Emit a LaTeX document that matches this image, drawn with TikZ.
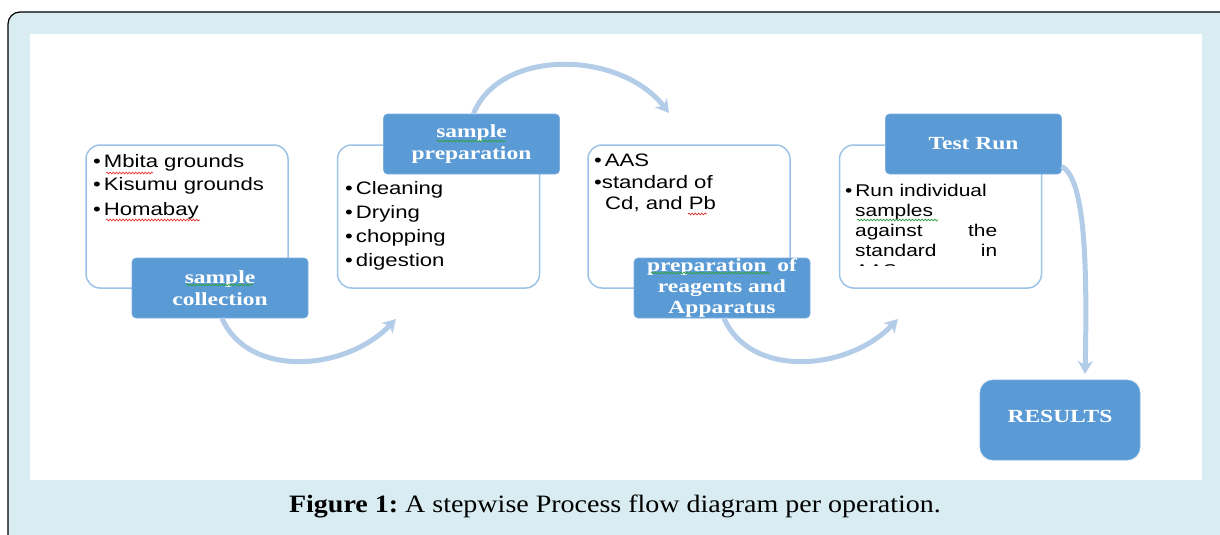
\documentclass[tikz,border=0pt]{standalone}
\usepackage{fontspec}
\setmainfont{Liberation Serif}
\newfontfamily\bodyf[FakeStretch=1.23]{Liberation Sans}
\newfontfamily\labf[FakeStretch=1.27]{Liberation Serif}
\newfontfamily\capf[FakeStretch=1.12]{Liberation Serif}
\usetikzlibrary{arrows.meta,decorations.pathmorphing}
\definecolor{frameblue}{HTML}{D9ECF2}
\definecolor{lblue}{HTML}{5B9BD5}
\definecolor{bordblue}{HTML}{9DC3E6}
\definecolor{arrblue}{HTML}{B3CDE9}
\definecolor{squigred}{HTML}{E03030}
\definecolor{squiggreen}{HTML}{30A040}
\tikzset{
  whitebox/.style={draw=bordblue, line width=1.5pt, fill=white, rounded corners=14pt,
    inner sep=0pt, minimum width=202pt, minimum height=143pt},
  labelbox/.style={fill=lblue, draw=lblue!80!white, line width=0.6pt, rounded corners=4pt,
    inner sep=0pt, minimum width=176pt, minimum height=60pt, text=white,
    font=\labf\bfseries\fontsize{18.5}{21.5}\selectfont, align=center},
  bodytext/.style={anchor=north west, inner sep=0pt, align=left, text=black,
    font=\bodyf\fontsize{18}{23}\selectfont},
  flow/.style={draw=arrblue, line width=5pt,
    -{Stealth[length=13pt,width=15pt,inset=4pt]}},
  squig/.style={decorate, decoration={snake, amplitude=0.9pt, segment length=3.2pt},
    line width=0.7pt}
}
\begin{document}
\begin{tikzpicture}[x=1pt,y=-1pt]
\useasboundingbox (0,0) rectangle (1220,535);
\clip (0,0) rectangle (1220,535);
% frame
\draw[fill=frameblue, rounded corners=12pt, line width=1.2pt] (8,12) rectangle (1250,570);
\fill[white] (30,34) rectangle (1202,480);

% white content boxes
\node[whitebox] (b1) at (187,216.5) {};
\node[whitebox] (b2) at (438.5,216.5) {};
\node[whitebox] (b3) at (689,216.5) {};
\node[whitebox] (b4) at (940.5,216.5) {};

% body texts
\node[bodytext] (t1) at (93,154) {•\,Mbita grounds\\ •\,Kisumu grounds\\[2pt] •\,Homabay};
\node[bodytext, font=\bodyf\fontsize{18}{24}\selectfont] (t2) at (345,181) {•\,Cleaning\\ •\,Drying\\ •\,chopping\\ •\,digestion};
\node[bodytext, font=\bodyf\fontsize{18}{21.5}\selectfont] (t3) at (594,154) {•\,AAS\\ •standard of\\ \hspace*{11pt}Cd, and Pb};
\begin{scope}
\clip (841,176) rectangle (1040,265);
\node[bodytext, font=\bodyf\fontsize{17}{20}\selectfont] (t4) at (845,184)
  {•\,Run individual\\
   \hspace*{10pt}samples\\
   \hspace*{10pt}\makebox[142pt][s]{against\hfill the}\\
   \hspace*{10pt}\makebox[142pt][s]{standard\hfill in}\\
   \hspace*{10pt}AAS};
\end{scope}

% blue label boxes
\node[labelbox] (l1) at (220,288) {sample\\collection};
\node[labelbox] (l2) at (471.5,144) {sample\\preparation};
\node[labelbox, font=\labf\bfseries\fontsize{18.5}{21}\selectfont] (l3) at (722,288)
  {\makebox[150pt][s]{preparation\hfill of}\\reagents and\\Apparatus};
\node[labelbox] (l4) at (973.5,144) {Test Run};
\node[labelbox, minimum width=160pt, minimum height=80pt, rounded corners=13pt] (res) at (1060,420)
  {\raisebox{8pt}{RESULTS}};

% spelling squiggles
\draw[squig, squigred] (106,173) -- (153,173);
\draw[squig, squigred] (106,220) -- (200,220);
\draw[squig, squigred] (688,214) -- (707,214);
\draw[squig, squiggreen] (186,285) -- (253,285);
\draw[squig, squiggreen] (437,141) -- (505,141);
\draw[squig, squiggreen] (651,273) -- (770,273);
\draw[squig, squiggreen] (857,220) -- (938,220);

% connectors
\coordinate (e1) at (396,319);
\coordinate (e2) at (669,113);
\coordinate (e3) at (898,319);
\coordinate (e4) at (1085,374);
\draw[flow] ([xshift=2pt]l1.south) .. controls (248,378) and (345,372) .. (e1);
\draw[flow] ([xshift=2pt]l2.north) .. controls (500,48) and (620,50) .. (e2);
\draw[flow] ([xshift=2pt]l3.south) .. controls (750,378) and (847,372) .. (e3);
\draw[flow] ([yshift=8pt]l4.south east) .. controls (1082,178) and (1088,240) .. (e4);

% caption
\node[font=\capf\fontsize{25}{28}\selectfont] (cap) at (615,506)
  {\frenchspacing\textbf{Figure 1:}\ A stepwise Process flow diagram per operation.};
\end{tikzpicture}
\end{document}
